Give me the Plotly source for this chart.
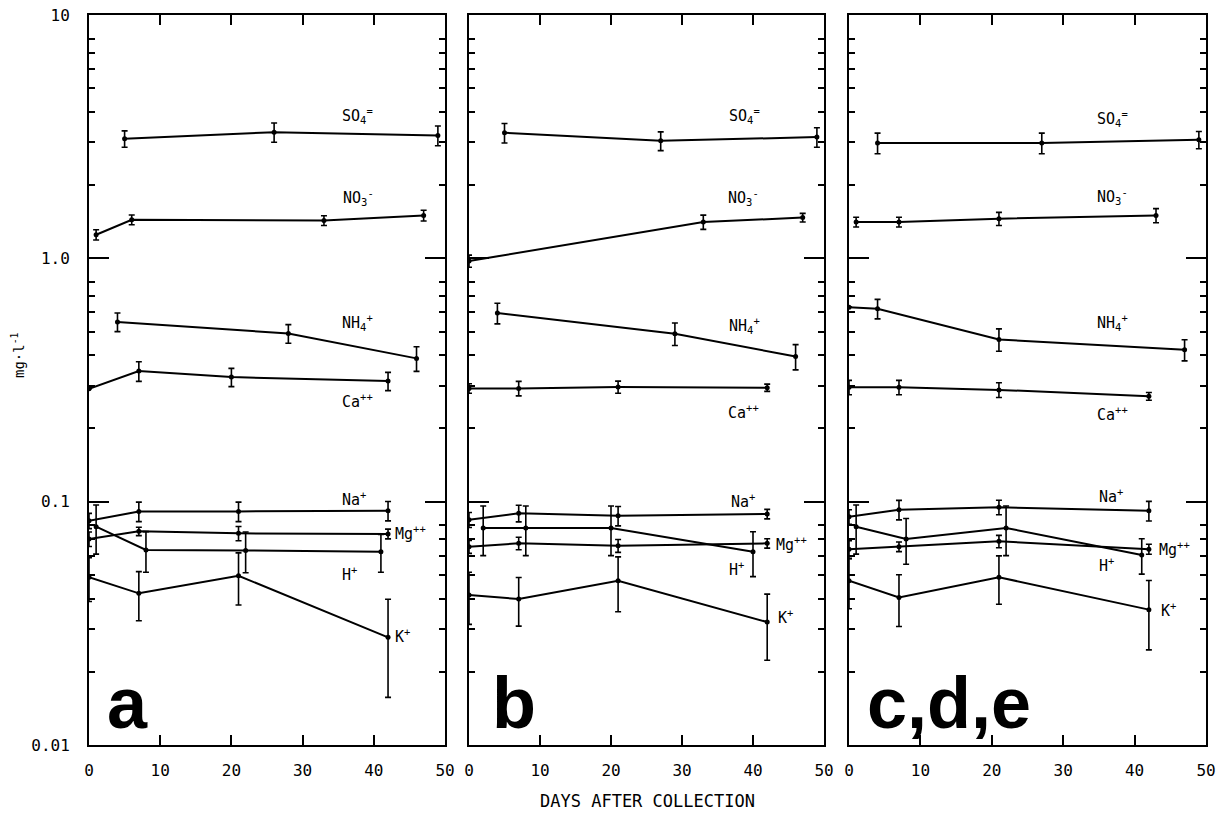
import math
import plotly.graph_objects as go

# ---------------- DATA (mg/l vs days after collection) ----------------
# Panel a
a_SO4_days = [5, 26, 49];        a_SO4_vals = [3.10, 3.30, 3.20];       a_SO4_err = [0.24, 0.30, 0.30]
a_NO3_days = [1, 6, 33, 47];     a_NO3_vals = [1.25, 1.44, 1.43, 1.50]; a_NO3_err = [0.06, 0.066, 0.066, 0.076]
a_NH4_days = [4, 28, 46];        a_NH4_vals = [0.548, 0.491, 0.388];    a_NH4_err = [0.048, 0.043, 0.045]
a_Ca_days = [0, 7, 20, 42];      a_Ca_vals = [0.291, 0.344, 0.325, 0.313]; a_Ca_err = [0.0, 0.032, 0.028, 0.027]
a_Na_days = [0, 7, 21, 42];      a_Na_vals = [0.0835, 0.0912, 0.0912, 0.0918]; a_Na_err = [0.006, 0.0084, 0.0084, 0.0084]
a_Mg_days = [0, 7, 21, 42];      a_Mg_vals = [0.0702, 0.0755, 0.0741, 0.0737]; a_Mg_err = [0.0048, 0.003, 0.005, 0.0034]
a_H_days = [1, 8, 22, 41];       a_H_vals = [0.0789, 0.0633, 0.0630, 0.0623];  a_H_err = [0.018, 0.012, 0.012, 0.011]
a_K_days = [0, 7, 21, 42];       a_K_vals = [0.0489, 0.0420, 0.0496, 0.0277];  a_K_err = [0.010, 0.0096, 0.012, 0.012]

# Panel b
b_SO4_days = [5, 27, 49];        b_SO4_vals = [3.28, 3.04, 3.15];       b_SO4_err = [0.30, 0.27, 0.29]
b_NO3_days = [0, 33, 47];        b_NO3_vals = [0.975, 1.41, 1.47];      b_NO3_err = [0.056, 0.095, 0.06]
b_NH4_days = [4, 29, 46];        b_NH4_vals = [0.596, 0.490, 0.395];    b_NH4_err = [0.058, 0.052, 0.047]
b_Ca_days = [0, 7, 21, 42];      b_Ca_vals = [0.292, 0.292, 0.296, 0.294]; b_Ca_err = [0.013, 0.02, 0.017, 0.01]
b_Na_days = [0, 7, 21, 42];      b_Na_vals = [0.0843, 0.0896, 0.0875, 0.0890]; b_Na_err = [0.006, 0.007, 0.008, 0.004]
b_Mg_days = [0, 7, 21, 42];      b_Mg_vals = [0.0653, 0.0674, 0.0659, 0.0674]; b_Mg_err = [0.004, 0.004, 0.004, 0.003]
b_H_days = [2, 8, 20, 40];       b_H_vals = [0.0780, 0.0780, 0.0780, 0.0622];  b_H_err = [0.018, 0.018, 0.018, 0.013]
b_K_days = [0, 7, 21, 42];       b_K_vals = [0.0413, 0.0398, 0.0473, 0.0320];  b_K_err = [0.010, 0.009, 0.012, 0.0097]

# Panel c,d,e
c_SO4_days = [4, 27, 49];        c_SO4_vals = [2.98, 2.98, 3.07];       c_SO4_err = [0.29, 0.29, 0.25]
c_NO3_days = [1, 7, 21, 43];     c_NO3_vals = [1.41, 1.41, 1.455, 1.50]; c_NO3_err = [0.065, 0.065, 0.09, 0.10]
c_NH4_days = [0, 4, 21, 47];     c_NH4_vals = [0.630, 0.621, 0.464, 0.421]; c_NH4_err = [0.0, 0.057, 0.049, 0.042]
c_Ca_days = [0, 7, 21, 42];      c_Ca_vals = [0.295, 0.295, 0.288, 0.271]; c_Ca_err = [0.02, 0.02, 0.02, 0.01]
c_Na_days = [0, 7, 21, 42];      c_Na_vals = [0.0867, 0.0927, 0.0948, 0.0918]; c_Na_err = [0.006, 0.0085, 0.0065, 0.0085]
c_Mg_days = [0, 7, 21, 42];      c_Mg_vals = [0.0638, 0.0653, 0.0687, 0.0638]; c_Mg_err = [0.0053, 0.003, 0.004, 0.003]
c_H_days = [1, 8, 22, 41];       c_H_vals = [0.0789, 0.0703, 0.0780, 0.0604];  c_H_err = [0.018, 0.015, 0.018, 0.010]
c_K_days = [0, 7, 21, 42];       c_K_vals = [0.0473, 0.0404, 0.0489, 0.0360];  c_K_err = [0.011, 0.0097, 0.011, 0.0114]

ion_labels = {
    "SO4": "SO<sub>4</sub><sup>=</sup>",
    "NO3": "NO<sub>3</sub><sup>-</sup>",
    "NH4": "NH<sub>4</sub><sup>+</sup>",
    "Ca": "Ca<sup>++</sup>",
    "Na": "Na<sup>+</sup>",
    "Mg": "Mg<sup>++</sup>",
    "H": "H<sup>+</sup>",
    "K": "K<sup>+</sup>",
}
panel_names = ["a", "b", "c,d,e"]
x_tick_vals = [0, 10, 20, 30, 40, 50]
y_tick_vals = [0.01, 0.1, 1, 10]
y_tick_text = ["0.01", "0.1", "1.0", "10"]

panels = [
    {"SO4": (a_SO4_days, a_SO4_vals, a_SO4_err), "NO3": (a_NO3_days, a_NO3_vals, a_NO3_err),
     "NH4": (a_NH4_days, a_NH4_vals, a_NH4_err), "Ca": (a_Ca_days, a_Ca_vals, a_Ca_err),
     "Na": (a_Na_days, a_Na_vals, a_Na_err), "Mg": (a_Mg_days, a_Mg_vals, a_Mg_err),
     "H": (a_H_days, a_H_vals, a_H_err), "K": (a_K_days, a_K_vals, a_K_err)},
    {"SO4": (b_SO4_days, b_SO4_vals, b_SO4_err), "NO3": (b_NO3_days, b_NO3_vals, b_NO3_err),
     "NH4": (b_NH4_days, b_NH4_vals, b_NH4_err), "Ca": (b_Ca_days, b_Ca_vals, b_Ca_err),
     "Na": (b_Na_days, b_Na_vals, b_Na_err), "Mg": (b_Mg_days, b_Mg_vals, b_Mg_err),
     "H": (b_H_days, b_H_vals, b_H_err), "K": (b_K_days, b_K_vals, b_K_err)},
    {"SO4": (c_SO4_days, c_SO4_vals, c_SO4_err), "NO3": (c_NO3_days, c_NO3_vals, c_NO3_err),
     "NH4": (c_NH4_days, c_NH4_vals, c_NH4_err), "Ca": (c_Ca_days, c_Ca_vals, c_Ca_err),
     "Na": (c_Na_days, c_Na_vals, c_Na_err), "Mg": (c_Mg_days, c_Mg_vals, c_Mg_err),
     "H": (c_H_days, c_H_vals, c_H_err), "K": (c_K_days, c_K_vals, c_K_err)},
]

# label positions (day, value) per panel
label_pos = [
    {"SO4": (35.2, 3.87), "NO3": (35.4, 1.77), "NH4": (35.2, 0.547), "Ca": (35.2, 0.26),
     "Na": (35.2, 0.103), "Mg": (42.7, 0.0745), "H": (35.2, 0.0506), "K": (42.7, 0.0281)},
    {"SO4": (36.4, 3.87), "NO3": (36.2, 1.77), "NH4": (36.4, 0.53), "Ca": (36.2, 0.233),
     "Na": (36.6, 0.101), "Mg": (43.0, 0.067), "H": (36.3, 0.053), "K": (43.2, 0.0335)},
    {"SO4": (34.5, 3.76), "NO3": (34.5, 1.79), "NH4": (34.5, 0.547), "Ca": (34.5, 0.229),
     "Na": (34.7, 0.106), "Mg": (43.1, 0.064), "H": (34.7, 0.055), "K": (43.4, 0.036)},
]

W, H = 1229, 815
x_dom_px = [(89, 445), (469, 824), (849, 1206)]
y_dom = [1 - 745 / H, 1 - 15 / H]

MONO = "DejaVu Sans Mono"
fig = go.Figure()

minor_vals = [m * 10 ** e for e in (-2, -1, 0) for m in (2, 3, 4, 5, 6, 7, 8)]

for i, panel in enumerate(panels):
    xa = "x" if i == 0 else f"x{i+1}"
    ya = "y" if i == 0 else f"y{i+1}"
    for ion, (d, v, e) in panel.items():
        fig.add_trace(go.Scatter(
            x=d, y=v, xaxis=xa, yaxis=ya, mode="lines+markers",
            line=dict(color="black", width=2),
            marker=dict(color="black", size=5),
            error_y=dict(type="data", array=e, visible=True, color="black", thickness=1.6, width=3),
            showlegend=False, hoverinfo="skip"))
    for ion, (lx, lv) in label_pos[i].items():
        fig.add_annotation(x=lx, y=math.log10(lv), xref=xa, yref=ya, text=ion_labels[ion],
                           showarrow=False, xanchor="left", yanchor="middle",
                           font=dict(family=MONO, size=15, color="black"))
    fig.add_annotation(x=0.045 if i != 1 else 0.06, y=0.0, xref=f"{xa} domain", yref=f"{ya} domain",
                       text=f"<b>{panel_names[i]}</b>", showarrow=False,
                       xanchor="left", yanchor="bottom",
                       font=dict(family="Liberation Sans", size=72, color="black"))

    x0, x1 = x_dom_px[i]
    xkey = "xaxis" if i == 0 else f"xaxis{i+1}"
    ykey = "yaxis" if i == 0 else f"yaxis{i+1}"
    fig.update_layout(**{
        xkey: dict(domain=[x0 / W, x1 / W], range=[0, 50], tickvals=x_tick_vals,
                   ticks="inside", ticklen=10, tickwidth=2, tickcolor="black",
                   showline=True, linewidth=2, linecolor="black", mirror="ticks",
                   showgrid=False, zeroline=False, anchor=ya, automargin=False,
                   tickfont=dict(family=MONO, size=16, color="black"), ticklabelstandoff=10),
        ykey: dict(domain=y_dom, type="log", range=[-2, 1], tickvals=y_tick_vals,
                   ticktext=y_tick_text, ticks="inside", ticklen=20, tickwidth=2,
                   tickcolor="black", showline=True, linewidth=2, linecolor="black",
                   mirror="ticks", showgrid=False, zeroline=False, anchor=xa, automargin=False,
                   showticklabels=(i == 0), ticklabelstandoff=14,
                   tickfont=dict(family=MONO, size=16, color="black"),
                   minor=dict(tickvals=minor_vals, ticks="inside", ticklen=6,
                              tickwidth=1.5, tickcolor="black", showgrid=False)),
    })

fig.add_annotation(x=18 / W, y=1 - 355 / H, xref="paper", yref="paper",
                   text="mg·l<sup>-1</sup>", textangle=-90, showarrow=False,
                   xanchor="center", yanchor="middle",
                   font=dict(family=MONO, size=14, color="black"))
fig.add_annotation(x=647 / W, y=1 - 801 / H, xref="paper", yref="paper",
                   text="DAYS AFTER COLLECTION", showarrow=False,
                   xanchor="center", yanchor="middle",
                   font=dict(family=MONO, size=17, color="black"))

fig.update_layout(width=W, height=H, margin=dict(l=0, r=0, t=0, b=0),
                  paper_bgcolor="white", plot_bgcolor="white")
fig.write_html("out.html")
